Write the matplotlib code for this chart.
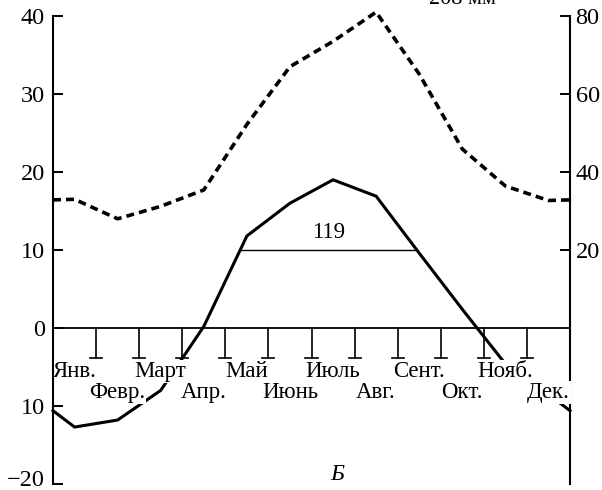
import numpy as np
import matplotlib
matplotlib.use("Agg")
import matplotlib.pyplot as plt
from matplotlib.transforms import ScaledTranslation

# ---------------- data ----------------
months = ["Янв.", "Февр.", "Март", "Апр.", "Май", "Июнь",
          "Июль", "Авг.", "Сент.", "Окт.", "Нояб.", "Дек."]
temperature = [-12.7, -11.8, -8.0, 0.2, 11.8, 16.0, 19.0, 16.9, 9.6, 2.4, -4.6, -8.5]
precipitation = [33.0, 28.0, 31.2, 35.4, 52.2, 67.0, 73.5, 81.0, 65.1, 45.9, 36.4, 32.7]
left_ticks = [40, 30, 20, 10, 0, -10, -20]
left_labels = ["40", "30", "20", "10", "0", "10", "−20"]
right_ticks = [80, 60, 40, 20]
right_labels = ["80", "60", "40", "20"]
threshold = 10
days_label = "119"
peak_note = "208 мм"
panel_label = "Б"

plt.rcParams['font.family'] = ['Liberation Serif', 'DejaVu Serif']

fig = plt.figure(figsize=(6.02, 4.90), dpi=100)
ax = fig.add_axes([53 / 602, 1 - 484 / 490, 517 / 602, 468 / 490])
ax.set_xlim(0, 12)
ax.set_ylim(-20, 40)

n = len(months)
centers = np.arange(n) + 0.5

def wrap(vals):
    vals = list(vals)
    edge = (vals[0] + vals[-1]) / 2.0
    return np.concatenate([[0.0], centers, [float(n)]]), np.array([edge] + vals + [edge])

# temperature (solid)
tx, ty = wrap(temperature)
ax.plot(tx, ty, color='black', lw=2.2, solid_joinstyle='miter', zorder=3, clip_on=False)

# zero line and hanging month ticks
ax.axhline(0, color='black', lw=1.3, zorder=2)
for k in range(1, n):
    ax.plot([k, k], [0, -3.9], color='black', lw=1.2, zorder=2)
    ax.plot([k - 0.14, k + 0.14], [-3.9, -3.9], color='black', lw=1.2, zorder=2)

# threshold line (10 °C) between the crossings
xs_f = np.linspace(0, n, 2401)
tf = np.interp(xs_f, tx, ty)
above = xs_f[tf >= threshold]
x0, x1 = above.min(), above.max()
ax.plot([x0, x1], [threshold, threshold], color='black', lw=1.0, zorder=2)
ax.text((x0 + x1) / 2, 11.5, days_label, ha='center', va='baseline', fontsize=16.5, zorder=4)

# month labels in two rows
for i, m in enumerate(months):
    yb = -6.28 if i % 2 == 0 else -8.97
    ax.text(centers[i], yb, m, ha='center', va='baseline', fontsize=16.5, zorder=6,
            bbox=dict(boxstyle='square,pad=0.03', fc='white', ec='none'))

# spines and left ticks
for s in ['top', 'bottom']:
    ax.spines[s].set_visible(False)
for s in ['left', 'right']:
    ax.spines[s].set_linewidth(1.5)
ax.spines['left'].set_zorder(7)
ax.set_xticks([])
ax.set_yticks(left_ticks)
ax.set_yticklabels(left_labels)
ax.tick_params(axis='y', direction='in', length=7, width=1.4, labelsize=17.5, pad=6,
               right=False)
# lift the bottom label slightly so it stays inside the picture
bottom_lbl = ax.get_yticklabels()[-1]
bottom_lbl.set_transform(bottom_lbl.get_transform() +
                         ScaledTranslation(0, 4 / 72, fig.dpi_scale_trans))

# precipitation (dashed) on right axis
ax2 = ax.twinx()
ax2.set_ylim(-40, 80)
for s in ax2.spines.values():
    s.set_visible(False)
px, py = wrap(precipitation)
ax2.plot(px, py, color='black', lw=2.6, dashes=(2.2, 1.4), dash_capstyle='butt',
         zorder=3, clip_on=False)
ax2.set_yticks(right_ticks)
ax2.set_yticklabels(right_labels)
ax2.tick_params(axis='y', direction='in', length=7, width=1.4, labelsize=17.5, pad=4)

# notes
ax.text(8.73, 41.6, peak_note, ha='left', va='baseline', fontsize=16, clip_on=False)
ax.text(6.6, -19.5, panel_label, ha='center', va='baseline', fontsize=17,
        style='italic', zorder=6)

fig.savefig("out.png", dpi=100, facecolor='white')
